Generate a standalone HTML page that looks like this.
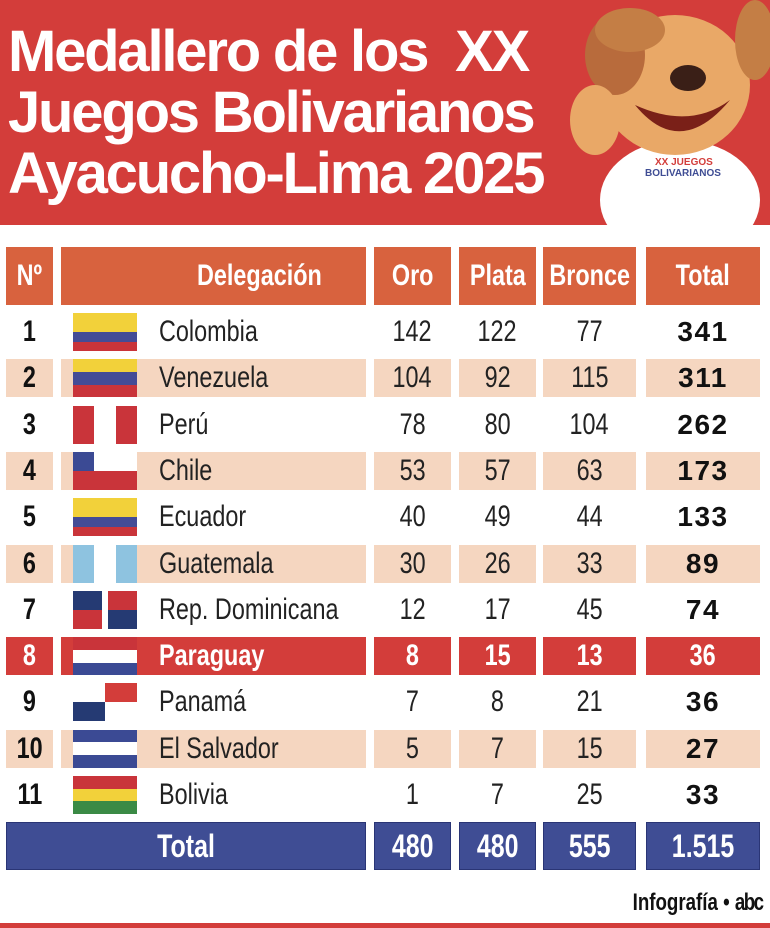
<!DOCTYPE html>
<html><head><meta charset="utf-8">
<style>
*{margin:0;padding:0;box-sizing:border-box}
body{width:770px;height:928px;background:#fff;position:relative;overflow:hidden;font-family:"Liberation Sans",sans-serif}
.hdr{position:absolute;left:0;top:0;width:770px;height:225px;background:#d33d3a}
.title{position:absolute;left:8px;top:21px;color:#fff;font-weight:bold;font-size:58px;line-height:61px;letter-spacing:-2.2px;white-space:nowrap}
.c{position:absolute;display:flex;align-items:center;justify-content:center;white-space:nowrap}
.c span{display:inline-block;transform:scaleX(.78)}
.h{background:#d8623e;color:#fff;font-weight:bold;font-size:30px;top:247px;height:58px}
.sh{background:#f5d6c0}
.rd{background:#d33d3a}
.bl{background:#3f4d94;color:#fff;font-weight:bold;font-size:32px;border:1px solid #2a3575}
.t{font-size:30px;color:#222}
.b{font-weight:900;font-size:28px;color:#111;letter-spacing:1.5px}
.n{font-weight:bold;font-size:30px;color:#111}
.flag{position:absolute;left:73px;width:64px;height:38px}
.sl span{transform-origin:left center}
</style></head><body>
<div class="hdr"></div>
<div class="title">Medallero de los&nbsp; XX<br>Juegos Bolivarianos<br>Ayacucho-Lima 2025</div>
<svg style="position:absolute;left:540px;top:0" width="230" height="225">
<ellipse cx="140" cy="200" rx="80" ry="60" fill="#fff"/>
<ellipse cx="135" cy="85" rx="75" ry="70" fill="#e9a867"/>
<ellipse cx="75" cy="55" rx="30" ry="40" fill="#b86b3c"/>
<ellipse cx="215" cy="40" rx="20" ry="40" fill="#c47e45"/>
<ellipse cx="90" cy="30" rx="35" ry="22" fill="#c47e45"/>
<ellipse cx="148" cy="78" rx="18" ry="13" fill="#3a1f17"/>
<path d="M95 105 Q140 160 190 100 Q150 130 95 105Z" fill="#7a2018"/>
<ellipse cx="55" cy="120" rx="25" ry="35" fill="#e9a867"/>
<text x="115" y="165" font-family="Liberation Sans" font-weight="bold" font-size="10" fill="#d33d3a">XX JUEGOS</text>
<text x="105" y="176" font-family="Liberation Sans" font-weight="bold" font-size="10" fill="#3f4d94">BOLIVARIANOS</text>
</svg>

<div class="c h" style="left:6px;width:47px"><span>Nº</span></div>
<div class="c h sl" style="left:61px;width:305px;justify-content:flex-start;padding-left:136px"><span>Delegación</span></div>
<div class="c h" style="left:374px;width:77px"><span>Oro</span></div>
<div class="c h" style="left:459px;width:77px"><span>Plata</span></div>
<div class="c h" style="left:543px;width:93px"><span>Bronce</span></div>
<div class="c h" style="left:646px;width:114px"><span>Total</span></div>

<div id="rows"></div>

<div class="c bl" style="left:6px;top:822px;width:360px;height:48px"><span>Total</span></div>
<div class="c bl" style="left:374px;top:822px;width:77px;height:48px"><span>480</span></div>
<div class="c bl" style="left:459px;top:822px;width:77px;height:48px"><span>480</span></div>
<div class="c bl" style="left:543px;top:822px;width:93px;height:48px"><span>555</span></div>
<div class="c bl" style="left:646px;top:822px;width:114px;height:48px"><span>1.515</span></div>

<div style="position:absolute;right:8px;top:889px;font-weight:bold;font-size:24px;color:#111;transform:scaleX(.78);transform-origin:right center;white-space:nowrap">Infografía • <span style="font-weight:900;letter-spacing:-2px">abc</span></div>
<div style="position:absolute;left:0;top:923px;width:770px;height:5px;background:#d33d3a"></div>

<script>
const d=[["Colombia",142,122,77,341],["Venezuela",104,92,115,311],["Perú",78,80,104,262],["Chile",53,57,63,173],["Ecuador",40,49,44,133],["Guatemala",30,26,33,89],["Rep. Dominicana",12,17,45,74],["Paraguay",8,15,13,36],["Panamá",7,8,21,36],["El Salvador",5,7,15,27],["Bolivia",1,7,25,33]];
const flags=[
'<div style="height:50%;background:#f2d13a"></div><div style="height:25%;background:#444c96"></div><div style="height:25%;background:#c9343a"></div>',
'<div style="height:33%;background:#f2d13a"></div><div style="height:34%;background:#444c96"></div><div style="height:33%;background:#c9343a"></div>',
'<div style="display:flex;height:100%"><div style="flex:1;background:#c9343a"></div><div style="flex:1;background:#fff"></div><div style="flex:1;background:#c9343a"></div></div>',
'<div style="height:50%;background:#fff;display:flex"><div style="width:33%;background:#3b4a94"></div></div><div style="height:50%;background:#c9343a"></div>',
'<div style="height:50%;background:#f2d13a"></div><div style="height:25%;background:#444c96"></div><div style="height:25%;background:#c9343a"></div>',
'<div style="display:flex;height:100%"><div style="flex:1;background:#8ec3e0"></div><div style="flex:1;background:#fff"></div><div style="flex:1;background:#8ec3e0"></div></div>',
'<div style="display:flex;height:50%"><div style="flex:1;background:#253a73"></div><div style="width:6px;background:#fff"></div><div style="flex:1;background:#c9343a"></div></div><div style="display:flex;height:50%"><div style="flex:1;background:#c9343a"></div><div style="width:6px;background:#fff"></div><div style="flex:1;background:#253a73"></div></div>',
'<div style="height:33%;background:#c9343a"></div><div style="height:34%;background:#fff"></div><div style="height:33%;background:#3b4a94"></div>',
'<div style="display:flex;height:50%"><div style="flex:1;background:#fff"></div><div style="flex:1;background:#d33d3a"></div></div><div style="display:flex;height:50%"><div style="flex:1;background:#253a73"></div><div style="flex:1;background:#fff"></div></div>',
'<div style="height:33%;background:#3b4a94"></div><div style="height:34%;background:#fff"></div><div style="height:33%;background:#3b4a94"></div>',
'<div style="height:33%;background:#c9343a"></div><div style="height:34%;background:#f2d13a"></div><div style="height:33%;background:#3a8a45"></div>'];
let h='';
d.forEach((r,i)=>{
 const cy=332+i*46.3, top=cy-19;
 let cls=i==7?'rd':(i%2==1?'sh':'');
 const cells=[[6,47],[61,305],[374,77],[459,77],[543,93],[646,114]];
 if(cls) cells.forEach(c=>h+=`<div class="c ${cls}" style="left:${c[0]}px;top:${top}px;width:${c[1]}px;height:38px"></div>`);
 const red=i==7;
 const tc=red?'color:#fff;font-weight:bold;':'';
 h+=`<div class="c n" style="left:6px;top:${top}px;width:47px;height:38px;${red?'color:#fff;':''}"><span>${i+1}</span></div>`;
 h+=`<div class="flag" style="top:${top}px">${flags[i]}</div>`;
 h+=`<div class="c t sl" style="left:159px;top:${top}px;height:38px;justify-content:flex-start;${tc}"><span>${r[0]}</span></div>`;
 h+=`<div class="c t" style="left:374px;top:${top}px;width:77px;height:38px;${tc}"><span>${r[1]}</span></div>`;
 h+=`<div class="c t" style="left:459px;top:${top}px;width:77px;height:38px;${tc}"><span>${r[2]}</span></div>`;
 h+=`<div class="c t" style="left:543px;top:${top}px;width:93px;height:38px;${tc}"><span>${r[3]}</span></div>`;
 h+=red?`<div class="c t" style="left:646px;top:${top}px;width:114px;height:38px;${tc}"><span>${r[4]}</span></div>`
       :`<div class="c b" style="left:646px;top:${top}px;width:114px;height:38px">${r[4]}</div>`;
});
document.getElementById('rows').innerHTML=h;
</script>
</body></html>
